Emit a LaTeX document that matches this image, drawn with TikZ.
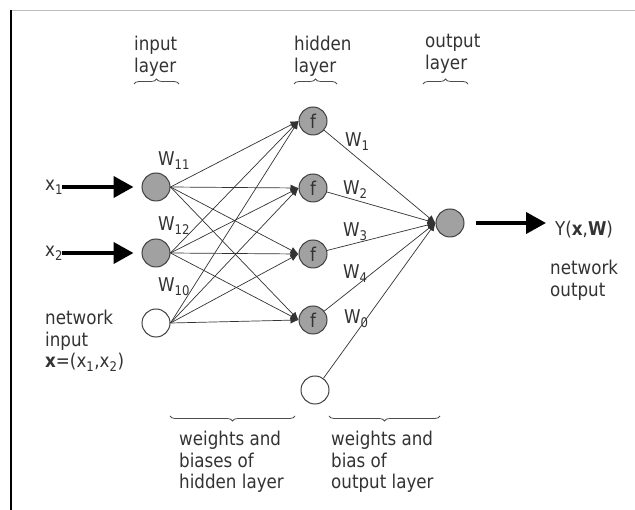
\documentclass[tikz,border=0pt]{standalone}
\usepackage{fontspec}
\setmainfont[FakeStretch=0.88]{DejaVu Sans}
\usetikzlibrary{arrows.meta,decorations.pathreplacing}
\begin{document}
\begin{tikzpicture}[x=1pt,y=-1pt,
  neuron/.style={circle,draw=black!75,line width=1pt,fill=black!37,minimum size=28pt,inner sep=0pt,
    font=\fontsize{19}{21.5}\selectfont,text=black!80},
  biasnode/.style={neuron,fill=white},
  conn/.style={draw=black!80,line width=0.7pt,-{Latex[length=8pt,width=7pt]}},
  bigarrow/.style={line width=4pt,-{Triangle[length=20pt,width=21pt]}},
  lbl/.style={font=\fontsize{19}{21.5}\selectfont,text=black!80,inner sep=0pt,anchor=base west},
  txt/.style={lbl,align=left},
  brc/.style={decorate,decoration={brace,amplitude=5pt},line width=0.8pt,draw=black!70}
]
\useasboundingbox (0,0) rectangle (635,510);
% frame
\draw[black!25,line width=1.5pt] (11,10.5) -- (635,10.5);
\draw[black,line width=2.5pt] (11,10) -- (11,510);

% neurons
\node[neuron] (i1) at (156,187) {};
\node[neuron] (i2) at (156,253) {};
\node[biasnode] (b1) at (156,323) {};
\node[neuron] (h1) at (313,121) {f};
\node[neuron] (h2) at (313,188) {f};
\node[neuron] (h3) at (313,254) {f};
\node[neuron] (h4) at (313,320) {f};
\node[biasnode] (b2) at (315,390) {};
\node[neuron] (o) at (450,223) {};

% connections
\foreach \s in {i1,i2,b1}{
  \foreach \t in {h1,h2,h3,h4}{
    \draw[conn] (\s.east) -- (\t.west);
  }
}
\foreach \s in {h1,h2,h3,h4,b2}{
  \draw[conn] (\s) -- (o.west);
}

% inputs
\node[lbl] (x1) at (45,191) {x\textsubscript{1}};
\node[lbl] (x2) at (45,257) {x\textsubscript{2}};
\coordinate (a1) at (62,187);
\coordinate (a2) at (62,253);
\draw[bigarrow,shorten >=8pt] (a1) -- (i1);
\draw[bigarrow,shorten >=8pt] (a2) -- (i2);

% output
\coordinate (yend) at (546,223);
\draw[bigarrow,shorten <=11pt] (o) -- (yend);
\node[lbl] (y) at (555,236) {Y(\textbf{x},\textbf{W})};
\node[txt] (nout) at (550,296.5) {network\\output};

% weight labels
\node[lbl] (w11) at (158,166) {W\textsubscript{11}};
\node[lbl] (w12) at (158,231) {W\textsubscript{12}};
\node[lbl] (w10) at (158,292) {W\textsubscript{10}};
\node[lbl] (w1) at (345,147) {W\textsubscript{1}};
\node[lbl] (w2) at (343,195) {W\textsubscript{2}};
\node[lbl] (w3) at (343,237) {W\textsubscript{3}};
\node[lbl] (w4) at (343,279) {W\textsubscript{4}};
\node[lbl] (w0) at (344,324) {W\textsubscript{0}};

% layer labels
\node[txt] (lin) at (134,72.5) {input\\layer};
\node[txt] (lhid) at (294,72.5) {hidden\\layer};
\node[txt] (lout) at (425,69.5) {output\\layer};
\draw[brc] (134,84) -- (179,84);
\draw[brc] (294,84) -- (337,84);
\draw[brc] (423,84) -- (468,84);

% network input
\node[txt] (nin) at (45,368) {network\\input\\\textbf{x}=(x\textsubscript{1},x\textsubscript{2})};

% bottom
\draw[brc] (295,416) -- (170,416);
\draw[brc] (440,416) -- (329,416);
\node[txt] (bh) at (179,489) {weights and\\biases of\\hidden layer};
\node[txt] (bo) at (331,489) {weights and\\bias of\\output layer};
\end{tikzpicture}
\end{document}
